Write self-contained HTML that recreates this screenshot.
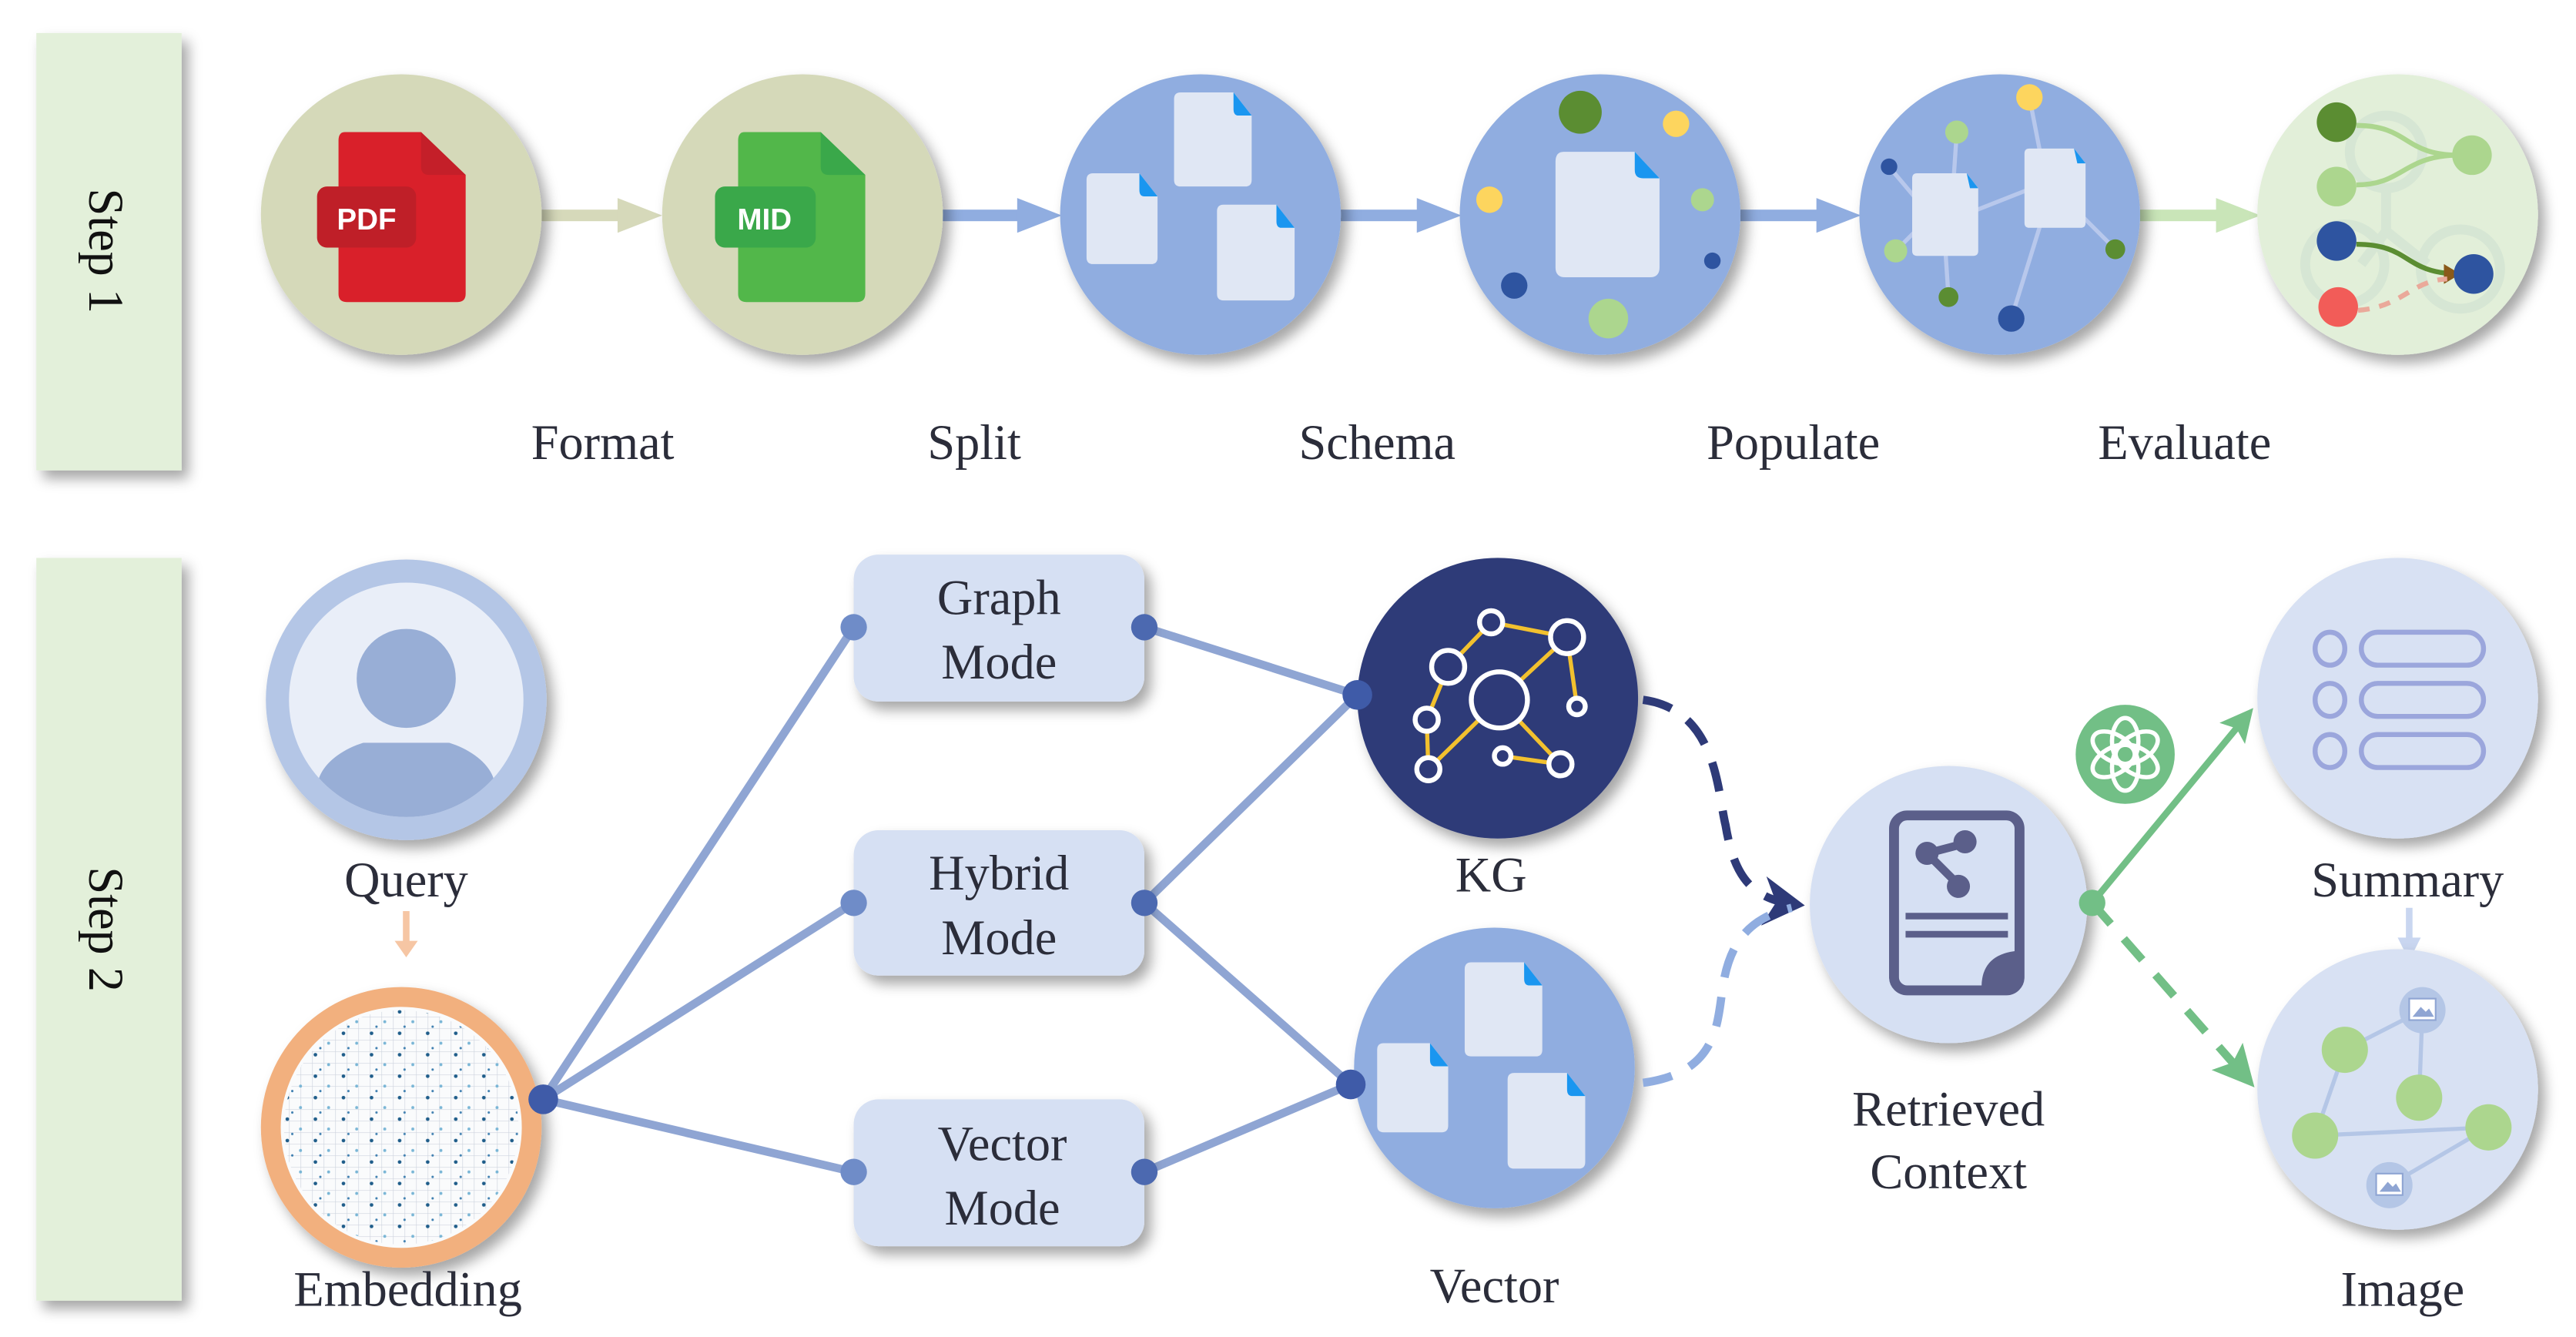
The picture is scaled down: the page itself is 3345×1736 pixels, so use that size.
<!DOCTYPE html>
<html><head><meta charset="utf-8"><style>
html,body{margin:0;padding:0;background:#fff}
svg{display:block}
text{font-family:"Liberation Serif",serif;fill:#2b2d3a}
</style></head><body>
<svg width="3345" height="1736" viewBox="0 0 1560 810" preserveAspectRatio="none" xmlns="http://www.w3.org/2000/svg">
<defs>
<filter id="sh" x="-30%" y="-30%" width="160%" height="160%"><feDropShadow dx="4" dy="5" stdDeviation="4" flood-color="#000" flood-opacity="0.35"/></filter>
<pattern id="grid" width="7" height="7" patternUnits="userSpaceOnUse"><path d="M0 0H7M0 0V7" stroke="#cdd3de" stroke-width="0.6"/></pattern>
<pattern id="dots2" width="17" height="13" patternUnits="userSpaceOnUse"><circle cx="4" cy="2" r="1.1" fill="#1f5d8a"/><circle cx="12" cy="8" r="0.9" fill="#7ab6d6"/><circle cx="7" cy="11" r="0.7" fill="#3f7fb0"/></pattern>
<marker id="an" markerWidth="6" markerHeight="6" refX="4" refY="3" orient="auto" markerUnits="strokeWidth"><path d="M0,0 L5,3 L0,6 L1.5,3z" fill="#2e3a78"/></marker>
<marker id="ag" markerWidth="5" markerHeight="5" refX="4" refY="2.5" orient="auto" markerUnits="strokeWidth"><path d="M0,0 L5,2.5 L0,5 L1,2.5z" fill="#72bf86"/></marker>
</defs>

<rect x="22" y="20" width="88" height="265" fill="#e3f0da" filter="url(#sh)"/>
<rect x="22" y="338" width="88" height="450" fill="#e3f0da" filter="url(#sh)"/>
<text transform="translate(54,152) rotate(90)" font-size="30" text-anchor="middle" style="fill:#111">Step 1</text>
<text transform="translate(54,563) rotate(90)" font-size="30" text-anchor="middle" style="fill:#111">Step 2</text>

<g>
<rect x="328" y="127" width="48" height="7" fill="#d6d9ba"/><path d="M374 120 L401 130.5 L374 141z" fill="#d6d9ba"/>
<rect x="570" y="127" width="48" height="7" fill="#90ade0"/><path d="M616 120 L643 130.5 L616 141z" fill="#90ade0"/>
<rect x="812" y="127" width="48" height="7" fill="#90ade0"/><path d="M858 120 L885 130.5 L858 141z" fill="#90ade0"/>
<rect x="1054" y="127" width="48" height="7" fill="#90ade0"/><path d="M1100 120 L1127 130.5 L1100 141z" fill="#90ade0"/>
<rect x="1296" y="127" width="48" height="7" fill="#c9e5b8"/><path d="M1342 120 L1369 130.5 L1342 141z" fill="#c9e5b8"/>
</g>

<circle cx="243" cy="130" r="85" fill="#d5d9b9" filter="url(#sh)"/>
<path d="M209 80 H255 L282 106 V178 Q282 183 277 183 H210 Q205 183 205 178 V85 Q205 80 209 80z" fill="#d9202a"/>
<path d="M255 80 V101 Q255 106 260 106 H282z" fill="#c41f29"/>
<rect x="192" y="113" width="60" height="37" rx="6" fill="#bf1f28"/>
<text x="222" y="139" font-size="18" text-anchor="middle" font-weight="bold" style="font-family:'Liberation Sans',sans-serif;fill:#fff">PDF</text>

<circle cx="486" cy="130" r="85" fill="#d5d9b9" filter="url(#sh)"/>
<path d="M451 80 H497 L524 106 V178 Q524 183 519 183 H452 Q447 183 447 178 V85 Q447 80 451 80z" fill="#52b74a"/>
<path d="M497 80 V101 Q497 106 502 106 H524z" fill="#3aa84a"/>
<rect x="433" y="113" width="61" height="37" rx="6" fill="#3aa84a"/>
<text x="463" y="139" font-size="18" text-anchor="middle" font-weight="bold" style="font-family:'Liberation Sans',sans-serif;fill:#fff">MID</text>

<circle cx="727" cy="130" r="85" fill="#90ade0" filter="url(#sh)"/>
<path d="M715 56 H747 L758 70 V109 Q758 113 754 113 H715 Q711 113 711 109 V60 Q711 56 715 56z" fill="#e0e7f4"/><path d="M747 56 L758 70 H750 Q747 70 747 66z" fill="#1a96f0"/>
<path d="M662 105 H690 L701 119 V156 Q701 160 697 160 H662 Q658 160 658 156 V109 Q658 105 662 105z" fill="#e0e7f4"/><path d="M690 105 L701 119 H693 Q690 119 690 115z" fill="#1a96f0"/>
<path d="M741 124 H773 L784 138 V178 Q784 182 780 182 H741 Q737 182 737 178 V128 Q737 124 741 124z" fill="#e0e7f4"/><path d="M773 124 L784 138 H776 Q773 138 773 134z" fill="#1a96f0"/>

<circle cx="969" cy="130" r="85" fill="#90ade0" filter="url(#sh)"/>
<path d="M947 92 H990 L1005 108 V162 Q1005 168 999 168 H948 Q942 168 942 162 V98 Q942 92 947 92z" fill="#e0e7f4"/><path d="M990 92 L1005 108 H995 Q990 108 990 103z" fill="#1a96f0"/>
<circle cx="957" cy="68" r="13" fill="#5b8d32"/><circle cx="1015" cy="75" r="8" fill="#fdd55e"/><circle cx="902" cy="121" r="8" fill="#fdd55e"/><circle cx="1031" cy="121" r="7" fill="#acd68e"/><circle cx="1037" cy="158" r="5" fill="#2e54a0"/><circle cx="917" cy="173" r="8" fill="#2e54a0"/><circle cx="974" cy="193" r="12" fill="#acd68e"/>

<circle cx="1211" cy="130" r="85" fill="#90ade0" filter="url(#sh)"/>
<g stroke="#b8c8ec" stroke-width="2.5">
<line x1="1229" y1="59" x2="1236" y2="95"/><line x1="1185" y1="80" x2="1183" y2="110"/><line x1="1144" y1="101" x2="1160" y2="120"/><line x1="1148" y1="152" x2="1160" y2="140"/><line x1="1180" y1="180" x2="1178" y2="150"/><line x1="1281" y1="151" x2="1260" y2="130"/><line x1="1218" y1="193" x2="1236" y2="135"/><line x1="1195" y1="128" x2="1228" y2="115"/>
</g>
<path d="M1161 105 H1191 L1198 114 V152 Q1198 155 1195 155 H1161 Q1158 155 1158 152 V108 Q1158 105 1161 105z" fill="#e0e7f4"/><path d="M1191 105 L1198 114 H1193z" fill="#1a96f0"/>
<path d="M1229 90 H1256 L1263 99 V135 Q1263 138 1260 138 H1229 Q1226 138 1226 135 V93 Q1226 90 1229 90z" fill="#e0e7f4"/><path d="M1256 90 L1263 99 H1258z" fill="#1a96f0"/>
<circle cx="1229" cy="59" r="8" fill="#fdd55e"/><circle cx="1185" cy="80" r="7" fill="#acd68e"/><circle cx="1144" cy="101" r="5" fill="#2e54a0"/><circle cx="1148" cy="152" r="7" fill="#acd68e"/><circle cx="1180" cy="180" r="6" fill="#5b8d32"/><circle cx="1281" cy="151" r="6" fill="#5b8d32"/><circle cx="1218" cy="193" r="8" fill="#2e54a0"/>

<circle cx="1452" cy="130" r="85" fill="#e2efd9" filter="url(#sh)"/>
<g fill="none" stroke="#d6e6d4" stroke-width="6"><circle cx="1445" cy="92" r="22"/><circle cx="1420" cy="160" r="24"/><circle cx="1490" cy="163" r="24"/><path d="M1445 115 V140 L1430 160 M1445 140 L1470 160"/></g>
<path d="M1427 76 C1460 76 1455 95 1492 94" fill="none" stroke="#acd68e" stroke-width="3"/>
<path d="M1427 112 C1455 112 1455 95 1487 94" fill="none" stroke="#acd68e" stroke-width="3"/>
<path d="M1427 148 C1460 148 1455 165 1488 166" fill="none" stroke="#5b8d32" stroke-width="3"/>
<path d="M1480 160 L1490 166 L1480 172z" fill="#8a5a1a"/>
<path d="M1428 188 C1455 186 1460 170 1482 169" fill="none" stroke="#eaa99a" stroke-width="3" stroke-dasharray="7 6"/>
<circle cx="1415" cy="74" r="12" fill="#5b8d32"/><circle cx="1415" cy="113" r="12" fill="#acd68e"/><circle cx="1497" cy="94" r="12" fill="#acd68e"/><circle cx="1415" cy="146" r="12" fill="#2e54a0"/><circle cx="1498" cy="166" r="12" fill="#2e54a0"/><circle cx="1416" cy="186" r="12" fill="#f25c58"/>

<g font-size="30" text-anchor="middle">
<text x="365" y="278">Format</text><text x="590" y="278">Split</text><text x="834" y="278">Schema</text><text x="1086" y="278">Populate</text><text x="1323" y="278">Evaluate</text>
</g>

<g stroke="#8fa5d3" stroke-width="5" fill="none">
<line x1="329" y1="666" x2="517" y2="380"/><line x1="329" y1="666" x2="517" y2="547"/><line x1="329" y1="666" x2="517" y2="710"/>
<line x1="693" y1="380" x2="822" y2="421"/><line x1="693" y1="547" x2="822" y2="421"/><line x1="693" y1="547" x2="818" y2="657"/><line x1="693" y1="710" x2="818" y2="657"/>
</g>
<line x1="246" y1="552" x2="246" y2="572" stroke="#f6c6a4" stroke-width="4"/><path d="M239 570 L246 580 L253 570z" fill="#f6c6a4"/>

<circle cx="246" cy="424" r="85" fill="#b4c6e6" filter="url(#sh)"/>
<circle cx="246" cy="424" r="71" fill="#e9eef8"/>
<clipPath id="qc"><circle cx="246" cy="424" r="71"/></clipPath>
<g clip-path="url(#qc)" fill="#98aed6"><ellipse cx="246" cy="478" rx="54" ry="32"/></g>
<rect x="190" y="445" width="112" height="5" fill="#e9eef8"/>
<circle cx="246" cy="411" r="30" fill="#98aed6"/>
<text x="246" y="543" font-size="30" text-anchor="middle">Query</text>

<circle cx="243" cy="683" r="85" fill="#f2b07e" filter="url(#sh)"/>
<circle cx="243" cy="683" r="73" fill="#fafbfc"/>
<circle cx="243" cy="683" r="71" fill="url(#grid)"/>
<circle cx="243" cy="683" r="71" fill="url(#dots2)"/>
<text x="247" y="791" font-size="30" text-anchor="middle">Embedding</text>

<g filter="url(#sh)" fill="#d6e0f3">
<rect x="517" y="336" width="176" height="89" rx="15"/><rect x="517" y="503" width="176" height="88" rx="15"/><rect x="517" y="666" width="176" height="89" rx="15"/>
</g>
<g font-size="30" text-anchor="middle">
<text x="605" y="372">Graph</text><text x="605" y="411">Mode</text>
<text x="605" y="539">Hybrid</text><text x="605" y="578">Mode</text>
<text x="607" y="703">Vector</text><text x="607" y="742">Mode</text>
</g>
<g fill="#6f8cc8"><circle cx="329" cy="666" r="9" fill="#3f5ba8"/><circle cx="517" cy="380" r="8"/><circle cx="517" cy="547" r="8"/><circle cx="517" cy="710" r="8"/><circle cx="693" cy="380" r="8" fill="#4c69b0"/><circle cx="693" cy="547" r="8" fill="#4c69b0"/><circle cx="693" cy="710" r="8" fill="#4c69b0"/></g>

<circle cx="907" cy="423" r="85" fill="#2e3a78" filter="url(#sh)"/>
<g stroke="#f2c12e" stroke-width="2.5"><line x1="903" y1="377" x2="949" y2="386"/><line x1="903" y1="377" x2="877" y2="404"/><line x1="949" y1="386" x2="908" y2="424"/><line x1="949" y1="386" x2="955" y2="428"/><line x1="877" y1="404" x2="864" y2="436"/><line x1="864" y1="436" x2="865" y2="466"/><line x1="865" y1="466" x2="908" y2="424"/><line x1="910" y1="458" x2="945" y2="463"/><line x1="945" y1="463" x2="908" y2="424"/></g>
<g fill="#2e3a78" stroke="#fff" stroke-width="3"><circle cx="903" cy="377" r="7"/><circle cx="949" cy="386" r="10"/><circle cx="877" cy="404" r="10"/><circle cx="908" cy="424" r="17"/><circle cx="955" cy="428" r="5"/><circle cx="864" cy="436" r="7"/><circle cx="910" cy="458" r="5"/><circle cx="945" cy="463" r="7"/><circle cx="865" cy="466" r="7"/></g>
<circle cx="822" cy="421" r="9" fill="#3f5ba8"/>
<text x="903" y="540" font-size="30" text-anchor="middle">KG</text>

<circle cx="905" cy="647" r="85" fill="#90ade0" filter="url(#sh)"/>
<path d="M891 583 H923 L934 597 V636 Q934 640 930 640 H891 Q887 640 887 636 V587 Q887 583 891 583z" fill="#e0e7f4"/><path d="M923 583 L934 597 H926 Q923 597 923 593z" fill="#1a96f0"/>
<path d="M838 632 H866 L877 646 V682 Q877 686 873 686 H838 Q834 686 834 682 V636 Q834 632 838 632z" fill="#e0e7f4"/><path d="M866 632 L877 646 H869 Q866 646 866 642z" fill="#1a96f0"/>
<path d="M917 650 H949 L960 664 V704 Q960 708 956 708 H917 Q913 708 913 704 V654 Q913 650 917 650z" fill="#e0e7f4"/><path d="M949 650 L960 664 H952 Q949 664 949 660z" fill="#1a96f0"/>
<circle cx="818" cy="657" r="9" fill="#3f5ba8"/>
<text x="905" y="789" font-size="30" text-anchor="middle">Vector</text>

<path d="M995 424 C1040 430 1040 480 1045 500 C1050 530 1060 545 1088 548" fill="none" stroke="#2e3a78" stroke-width="5" stroke-dasharray="18 12" marker-end="url(#an)"/>
<path d="M995 656 C1040 650 1040 620 1043 600 C1047 570 1060 556 1085 550" fill="none" stroke="#90ade0" stroke-width="5" stroke-dasharray="18 12"/>

<circle cx="1180" cy="548" r="84" fill="#d6e0f3" filter="url(#sh)"/>
<rect x="1147" y="494" width="76" height="106" rx="8" fill="none" stroke="#5b5f8a" stroke-width="6"/>
<path d="M1222 576 L1222 598 L1200 598 Q1200 578 1222 576z" fill="#5b5f8a"/>
<g stroke="#5b5f8a" stroke-width="5" fill="#5b5f8a"><line x1="1167" y1="517" x2="1190" y2="511"/><line x1="1167" y1="517" x2="1185" y2="535"/></g>
<circle cx="1167" cy="517" r="7" fill="#5b5f8a"/><circle cx="1190" cy="510" r="7" fill="#5b5f8a"/><circle cx="1186" cy="537" r="7" fill="#5b5f8a"/>
<line x1="1154" y1="555" x2="1216" y2="555" stroke="#5b5f8a" stroke-width="4"/><line x1="1154" y1="566" x2="1216" y2="566" stroke="#5b5f8a" stroke-width="4"/>
<text x="1180" y="682" font-size="30" text-anchor="middle">Retrieved</text><text x="1180" y="720" font-size="30" text-anchor="middle">Context</text>

<line x1="1267" y1="547" x2="1362" y2="432" stroke="#72bf86" stroke-width="4" marker-end="url(#ag)"/>
<line x1="1267" y1="547" x2="1362" y2="655" stroke="#72bf86" stroke-width="5" stroke-dasharray="17 12" marker-end="url(#ag)"/>
<circle cx="1267" cy="547" r="8" fill="#72bf86"/>
<circle cx="1287" cy="457" r="30" fill="#72bf86"/>
<g fill="none" stroke="#fff" stroke-width="2.6">
<ellipse cx="1287" cy="449" rx="8" ry="14" transform="rotate(0 1287 457)"/>
<ellipse cx="1287" cy="449" rx="8" ry="14" transform="rotate(60 1287 457)"/>
<ellipse cx="1287" cy="449" rx="8" ry="14" transform="rotate(120 1287 457)"/>
<ellipse cx="1287" cy="449" rx="8" ry="14" transform="rotate(180 1287 457)"/>
<ellipse cx="1287" cy="449" rx="8" ry="14" transform="rotate(240 1287 457)"/>
<ellipse cx="1287" cy="449" rx="8" ry="14" transform="rotate(300 1287 457)"/>
</g>

<circle cx="1452" cy="423" r="85" fill="#d8e1f3" filter="url(#sh)"/>
<g fill="none" stroke="#9ba6dc" stroke-width="3">
<ellipse cx="1411" cy="393" rx="9" ry="10"/><rect x="1430" y="383" width="74" height="20" rx="10"/>
<ellipse cx="1411" cy="424" rx="9" ry="10"/><rect x="1430" y="414" width="74" height="20" rx="10"/>
<ellipse cx="1411" cy="455" rx="9" ry="10"/><rect x="1430" y="445" width="74" height="20" rx="10"/>
</g>
<line x1="1459" y1="550" x2="1459" y2="570" stroke="#c9d6f0" stroke-width="4"/><path d="M1452 568 L1459 582 L1466 568z" fill="#c9d6f0"/>
<text x="1458" y="543" font-size="30" text-anchor="middle">Summary</text>

<circle cx="1452" cy="660" r="85" fill="#d8e1f3" filter="url(#sh)"/>
<g stroke="#b4c6e6" stroke-width="2.5"><line x1="1420" y1="636" x2="1467" y2="612"/><line x1="1467" y1="612" x2="1465" y2="665"/><line x1="1420" y1="636" x2="1402" y2="688"/><line x1="1402" y1="688" x2="1507" y2="683"/><line x1="1507" y1="683" x2="1447" y2="718"/></g>
<circle cx="1467" cy="612" r="14" fill="#b4c6e6"/><circle cx="1447" cy="718" r="14" fill="#b4c6e6"/>
<rect x="1459" y="605" width="16" height="13" fill="#fff" stroke="#8fa5d3" stroke-width="1"/><path d="M1461 616 L1466 610 L1469 613 L1471 611 L1474 616z" fill="#8fa5d3"/>
<rect x="1439" y="711" width="16" height="13" fill="#fff" stroke="#8fa5d3" stroke-width="1"/><path d="M1441 722 L1446 716 L1449 719 L1451 717 L1454 722z" fill="#8fa5d3"/>
<g fill="#acd68e"><circle cx="1420" cy="636" r="14"/><circle cx="1465" cy="665" r="14"/><circle cx="1402" cy="688" r="14"/><circle cx="1507" cy="683" r="14"/></g>
<text x="1455" y="791" font-size="30" text-anchor="middle">Image</text>
</svg>
</body></html>
